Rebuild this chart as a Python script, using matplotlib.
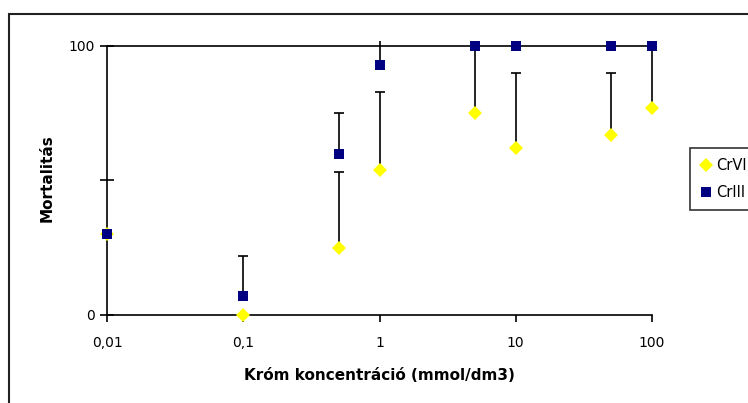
import numpy as np
import matplotlib.pyplot as plt
from matplotlib.patches import Rectangle

plt.rcParams['font.family'] = ['DejaVu Sans']

# koncentráció (mmol/dm3)
konc = [0.01, 0.1, 0.5, 1, 5, 10, 50, 100]

# mortalitás
cr6 = [30, 0, 25, 54, 75, 62, 67, 77]
cr6_hiba = [0, 0, 28, 29, 25, 28, 23, 23]
cr3 = [30, 7, 60, 93, 100, 100, 100, 100]
cr3_hiba = [0, 15, 15, 12, 0, 0, 0, 0]

fig = plt.figure(figsize=(7.48, 4.03), dpi=100)
ax = fig.add_axes([106/748, 1-315/403, (653-106)/748, (315-41)/403])

# hibasávok csak felfelé
for y, h in [(cr6, cr6_hiba), (cr3, cr3_hiba)]:
    ax.errorbar(konc, y, yerr=[np.zeros(len(y)), h], fmt='none',
                ecolor='black', elinewidth=1.2, capsize=3.5, capthick=1.2, zorder=2)

ax.plot(konc, cr6, 'D', color='#FFFF00', markersize=7, markeredgewidth=0,
        label='CrVI', zorder=3, clip_on=False)
ax.plot(konc, cr3, 's', color='#000080', markersize=7, markeredgewidth=0,
        label='CrIII', zorder=4, clip_on=False)

ax.set_xscale('log')
ax.set_xlim(0.0098, 102)
ax.set_ylim(0, 101.8)
ax.hlines(100, 0.01, 100, color='black', linewidth=1.2, zorder=1)

ax.set_xticks([0.01, 0.1, 1, 10, 100])
ax.set_xticklabels(['0,01', '0,1', '1', '10', '100'])
ax.xaxis.set_minor_locator(plt.NullLocator())
ax.set_yticks([0, 50, 100])
ax.set_yticklabels(['0', '', '100'])

ax.spines['top'].set_visible(False)
ax.spines['right'].set_visible(False)
ax.spines['left'].set_bounds(0, 100)
ax.spines['left'].set_position(('data', 0.01))
ax.spines['bottom'].set_bounds(0.01, 100)
for s in ['left', 'bottom']:
    ax.spines[s].set_linewidth(1.2)

ax.tick_params(axis='y', direction='inout', length=10, width=1.2, labelsize=10, pad=4)
ax.tick_params(axis='x', direction='out', length=5, width=1.2, labelsize=10, pad=10)

ax.set_ylabel('Mortalitás', fontsize=11, fontweight='bold', labelpad=10)
ax.set_xlabel('Króm koncentráció (mmol/dm3)', fontsize=11, fontweight='bold', labelpad=13)

leg = ax.legend(loc='upper left', bbox_to_anchor=(690/748, 1-148/403),
                bbox_transform=fig.transFigure, borderaxespad=0, fontsize=10.5,
                frameon=True, fancybox=False, edgecolor='black', handlelength=0.8,
                handletextpad=0.3, borderpad=0.7, labelspacing=0.8)
leg.get_frame().set_linewidth(1.2)

# külső keret
fig.patches.append(Rectangle((9/748, -0.1), 1.2, 1-14/403+0.1, transform=fig.transFigure,
                             fill=False, edgecolor='#222222', linewidth=1.5))

fig.savefig('out.png', dpi=100)
